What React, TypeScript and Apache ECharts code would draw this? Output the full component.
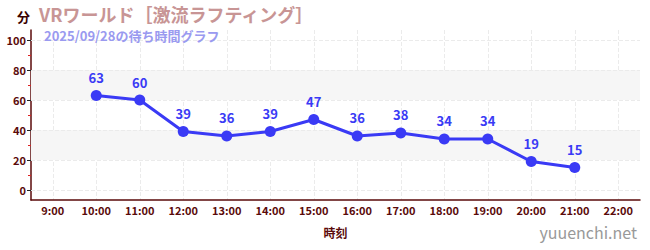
import React, { useEffect, useRef } from "react";
import * as echarts from "echarts";

const hours = ["9:00", "10:00", "11:00", "12:00", "13:00", "14:00", "15:00", "16:00", "17:00", "18:00", "19:00", "20:00", "21:00", "22:00"];
const waits: (number | null)[] = [null, 63, 60, 39, 36, 39, 47, 36, 38, 34, 34, 19, 15, null];
const majorTicks = [0, 20, 40, 60, 80, 100];
const minorTicks = [10, 30, 50, 70, 90];
const bands = [[20, 40], [60, 80]];

const FONT = "'Noto Sans CJK JP', 'Noto Sans', sans-serif";
const AXIS = "#5a0a0a";

export default function App() {
  const ref = useRef<HTMLDivElement>(null);
  useEffect(() => {
    document.body.style.margin = "0";
    const chart = echarts.init(ref.current!, null, { renderer: "svg" });
    const yBase = {
      type: "value" as const,
      min: -6.67,
      max: 106.67,
      position: "left" as const,
      axisLine: { show: false, onZero: false },
      splitLine: { show: false },
      axisLabel: { show: false },
    };
    chart.setOption({
      animation: false,
      textStyle: { fontFamily: FONT },
      title: [
        { text: "分", left: 12, top: 5, textStyle: { color: "#3a0000", fontSize: 13, fontWeight: "bold", fontFamily: FONT } },
        { text: "VRワールド［激流ラフティング］", left: 34, top: 0, textStyle: { color: "#c89595", fontSize: 18, fontWeight: "bold", fontFamily: FONT } },
        { text: "2025/09/28の待ち時間グラフ", left: 39, top: 24, textStyle: { color: "#9a9af0", fontSize: 13, fontWeight: "bold", fontFamily: FONT } },
        { text: "yuuenchi.net", right: 8, bottom: 5, textStyle: { color: "#999999", fontSize: 16, fontWeight: "normal", fontFamily: FONT } },
      ],
      grid: { left: 31, right: 10, top: 30, bottom: 50 },
      xAxis: {
        type: "category",
        data: hours,
        boundaryGap: true,
        name: "時刻",
        nameLocation: "middle",
        nameGap: 26,
        nameTextStyle: { color: AXIS, fontSize: 12, fontWeight: "bold", fontFamily: FONT },
        axisLine: { onZero: false, lineStyle: { color: AXIS, width: 1.5 } },
        axisTick: { alignWithLabel: true, length: 4, lineStyle: { color: "#555" } },
        axisLabel: { color: AXIS, fontSize: 11, fontWeight: "bold", margin: 4 },
        splitLine: { show: true, alignWithLabel: true, lineStyle: { color: "#ebebeb", type: "dashed" } },
      },
      yAxis: [
        {
          type: "value",
          min: -6.67,
          max: 106.67,
          position: "left",
          axisLine: { show: true, onZero: false, lineStyle: { color: AXIS, width: 1.5 } },
          axisTick: { show: true, length: 4, customValues: majorTicks, lineStyle: { color: "#222" } },
          axisLabel: { color: AXIS, fontSize: 11, fontWeight: "bold", customValues: majorTicks, margin: 5 },
          splitLine: { show: false },
        },
        { ...yBase, axisTick: { show: true, length: 3, customValues: minorTicks, lineStyle: { color: "#dd2222" } } },
        { ...yBase, axisTick: { show: true, inside: true, length: 3, customValues: majorTicks, lineStyle: { color: "#222" } } },
      ],
      series: [
        {
          type: "line",
          data: waits,
          yAxisIndex: 0,
          symbol: "circle",
          symbolSize: 11,
          lineStyle: { color: "#3a3af5", width: 3 },
          itemStyle: { color: "#3a3af5" },
          label: { show: true, position: "top", distance: 6, color: "#3a3af5", fontSize: 13, fontWeight: "bold", fontFamily: FONT },
          markArea: {
            silent: true,
            itemStyle: { color: "#f6f6f6" },
            data: bands.map(([a, b]) => [{ yAxis: a }, { yAxis: b }]),
          },
          markLine: {
            silent: true,
            symbol: "none",
            label: { show: false },
            lineStyle: { color: "#ebebeb", type: "dashed", width: 1 },
            data: majorTicks.map((v) => ({ yAxis: v })),
          },
          z: 5,
        },
      ],
    });
    return () => chart.dispose();
  }, []);
  return <div ref={ref} style={{ width: 650, height: 250 }} />;
}
